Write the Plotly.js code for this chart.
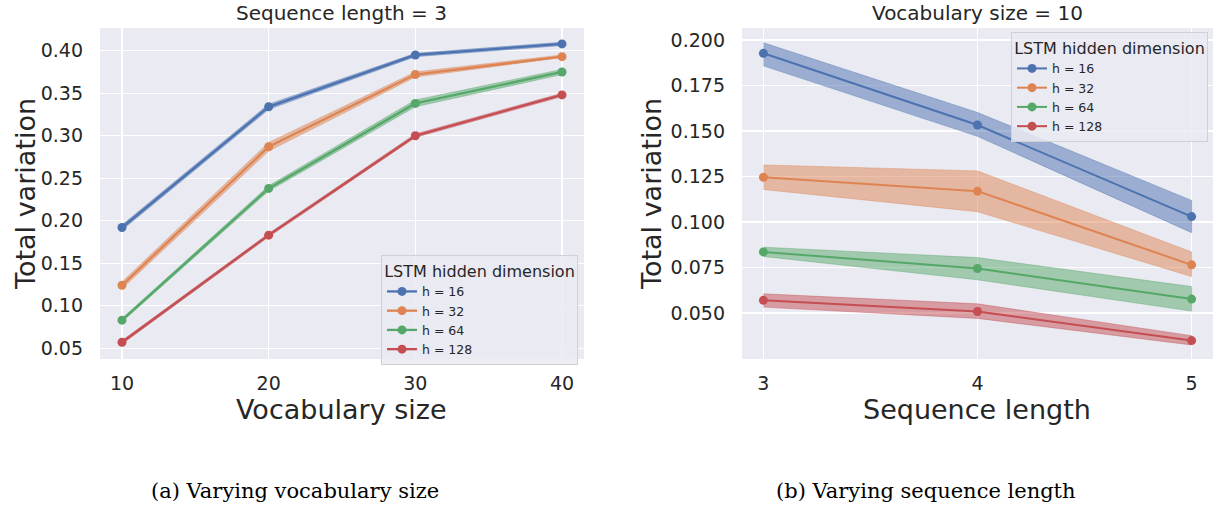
<!DOCTYPE html>
<html>
<head>
<meta charset="utf-8">
<script src="https://cdn.plot.ly/plotly-3.0.1.min.js"></script>
<style>
  html, body { margin: 0; padding: 0; background: #ffffff; }
  #chart { width: 1217px; height: 510px; }
</style>
</head>
<body>
<div id="chart"></div>
<script>
// ---------------- data ----------------
const seriesNames = ["h = 16", "h = 32", "h = 64", "h = 128"];
const seriesColors = ["#4c72b0", "#dd8452", "#55a868", "#c44e52"];
const bandColors = ["rgba(76,114,176,0.5)", "rgba(221,132,82,0.5)", "rgba(85,168,104,0.5)", "rgba(196,78,82,0.5)"];

// (a) Varying vocabulary size, sequence length = 3
const vocabSizes = [10, 20, 30, 40];
const vocabMean16  = [0.192, 0.334, 0.395, 0.408];
const vocabLow16   = [0.189, 0.331, 0.393, 0.406];
const vocabHigh16  = [0.195, 0.337, 0.397, 0.410];
const vocabMean32  = [0.124, 0.287, 0.372, 0.393];
const vocabLow32   = [0.120, 0.282, 0.369, 0.392];
const vocabHigh32  = [0.128, 0.292, 0.375, 0.395];
const vocabMean64  = [0.083, 0.238, 0.338, 0.375];
const vocabLow64   = [0.081, 0.235, 0.334, 0.372];
const vocabHigh64  = [0.085, 0.241, 0.342, 0.378];
const vocabMean128 = [0.057, 0.183, 0.300, 0.348];
const vocabLow128  = [0.055, 0.181, 0.298, 0.346];
const vocabHigh128 = [0.059, 0.185, 0.302, 0.350];

// (b) Varying sequence length, vocabulary size = 10
const seqLengths = [3, 4, 5];
const seqMean16  = [0.1927, 0.1533, 0.1030];
const seqLow16   = [0.1858, 0.1471, 0.0942];
const seqHigh16  = [0.1985, 0.1602, 0.1119];
const seqMean32  = [0.1246, 0.1170, 0.0765];
const seqLow32   = [0.1179, 0.1057, 0.0701];
const seqHigh32  = [0.1314, 0.1281, 0.0836];
const seqMean64  = [0.0836, 0.0745, 0.0577];
const seqLow64   = [0.0811, 0.0683, 0.0511];
const seqHigh64  = [0.0862, 0.0805, 0.0646];
const seqMean128 = [0.0570, 0.0509, 0.0349];
const seqLow128  = [0.0533, 0.0471, 0.0325];
const seqHigh128 = [0.0606, 0.0551, 0.0376];

const vocabTicks = [10, 20, 30, 40];
const vocabYTicks = [0.05, 0.10, 0.15, 0.20, 0.25, 0.30, 0.35, 0.40];
const seqTicks = [3, 4, 5];
const seqYTicks = [0.050, 0.075, 0.100, 0.125, 0.150, 0.175, 0.200];

const leftTitle = "Sequence length = 3";
const rightTitle = "Vocabulary size = 10";
const leftXTitle = "Vocabulary size";
const rightXTitle = "Sequence length";
const yTitle = "Total variation";
const legendTitle = "LSTM hidden dimension";
const captionA = "(a) Varying vocabulary size";
const captionB = "(b) Varying sequence length";

// ---------------- traces ----------------
const vocabMeans = [vocabMean16, vocabMean32, vocabMean64, vocabMean128];
const vocabLows = [vocabLow16, vocabLow32, vocabLow64, vocabLow128];
const vocabHighs = [vocabHigh16, vocabHigh32, vocabHigh64, vocabHigh128];
const seqMeans = [seqMean16, seqMean32, seqMean64, seqMean128];
const seqLows = [seqLow16, seqLow32, seqLow64, seqLow128];
const seqHighs = [seqHigh16, seqHigh32, seqHigh64, seqHigh128];

const traces = [];
function addPanel(xs, means, lows, highs, xa, ya, legendId, lw) {
  for (let i = 0; i < means.length; i++) {
    traces.push({
      x: xs.concat(xs.slice().reverse()),
      y: highs[i].concat(lows[i].slice().reverse()),
      xaxis: xa, yaxis: ya,
      type: "scatter", mode: "lines",
      fill: "toself", fillcolor: bandColors[i],
      line: { width: 0.8, color: bandColors[i] },
      hoverinfo: "skip", showlegend: false
    });
    traces.push({
      x: xs, y: means[i],
      xaxis: xa, yaxis: ya,
      type: "scatter", mode: "lines+markers",
      name: seriesNames[i],
      line: { color: seriesColors[i], width: lw },
      marker: { color: seriesColors[i], size: 9 },
      legend: legendId
    });
  }
}
addPanel(vocabSizes, vocabMeans, vocabLows, vocabHighs, "x", "y", "legend", 2.3);
addPanel(seqLengths, seqMeans, seqLows, seqHighs, "x2", "y2", "legend2", 2);

const W = 1217, H = 510;
const px = v => v / W;
const py = v => 1 - v / H;

const tickFont = { family: "DejaVu Sans", size: 19, color: "#262626" };
const axisCommon = {
  showline: false, zeroline: false, ticks: "", ticklen: 0,
  gridcolor: "#ffffff", gridwidth: 1.4,
  tickfont: tickFont, fixedrange: true
};

const legendCommon = {
  bgcolor: "rgba(234,234,242,0.85)",
  bordercolor: "#d0d0d8", borderwidth: 1,
  font: { family: "DejaVu Sans", size: 12.5, color: "#262626" },
  title: { text: legendTitle, side: "top center", font: { family: "DejaVu Sans", size: 16, color: "#262626" } },
  xanchor: "right", yanchor: "top",
  itemwidth: 30, tracegroupgap: 0
};

const layout = {
  width: W, height: H,
  margin: { l: 0, r: 0, t: 0, b: 0 },
  paper_bgcolor: "#ffffff",
  plot_bgcolor: "#eaeaf2",
  font: { family: "DejaVu Sans", color: "#262626" },
  xaxis: Object.assign({}, axisCommon, {
    domain: [px(100), px(584)], anchor: "y",
    range: [8.5, 41.5], tickvals: vocabTicks, ticklabelstandoff: 11
  }),
  yaxis: Object.assign({}, axisCommon, {
    domain: [py(359), py(28)], anchor: "x",
    range: [0.0373, 0.4267], tickvals: vocabYTicks, tickformat: ".2f", ticklabelstandoff: 16
  }),
  xaxis2: Object.assign({}, axisCommon, {
    domain: [px(742), px(1213)], anchor: "y2",
    range: [2.9, 5.1], tickvals: seqTicks, ticklabelstandoff: 11
  }),
  yaxis2: Object.assign({}, axisCommon, {
    domain: [py(359), py(28)], anchor: "x2",
    range: [0.0248, 0.2066], tickvals: seqYTicks, tickformat: ".3f", ticklabelstandoff: 16
  }),
  legend: Object.assign({}, legendCommon, { x: px(578), y: py(255) }),
  legend2: Object.assign({}, legendCommon, { x: px(1208), y: py(32) }),
  showlegend: true,
  annotations: [
    { text: leftTitle, x: px(341), y: py(13), xref: "paper", yref: "paper", showarrow: false,
      xanchor: "center", yanchor: "middle", font: { family: "DejaVu Sans", size: 20, color: "#262626" } },
    { text: rightTitle, x: px(977), y: py(13), xref: "paper", yref: "paper", showarrow: false,
      xanchor: "center", yanchor: "middle", font: { family: "DejaVu Sans", size: 20, color: "#262626" } },
    { text: leftXTitle, x: px(341), y: py(409), xref: "paper", yref: "paper", showarrow: false,
      xanchor: "center", yanchor: "middle", font: { family: "DejaVu Sans", size: 27, color: "#262626" } },
    { text: rightXTitle, x: px(977), y: py(409), xref: "paper", yref: "paper", showarrow: false,
      xanchor: "center", yanchor: "middle", font: { family: "DejaVu Sans", size: 27, color: "#262626" } },
    { text: yTitle, x: px(25), y: py(194), xref: "paper", yref: "paper", showarrow: false, textangle: -90,
      xanchor: "center", yanchor: "middle", font: { family: "DejaVu Sans", size: 27, color: "#262626" } },
    { text: yTitle, x: px(651), y: py(194), xref: "paper", yref: "paper", showarrow: false, textangle: -90,
      xanchor: "center", yanchor: "middle", font: { family: "DejaVu Sans", size: 27, color: "#262626" } },
    { text: captionA, x: px(295), y: py(491), xref: "paper", yref: "paper", showarrow: false,
      xanchor: "center", yanchor: "middle", font: { family: "DejaVu Serif", size: 21, color: "#000000" } },
    { text: captionB, x: px(926), y: py(491), xref: "paper", yref: "paper", showarrow: false,
      xanchor: "center", yanchor: "middle", font: { family: "DejaVu Serif", size: 21, color: "#000000" } }
  ]
};

Plotly.newPlot("chart", traces, layout, { displayModeBar: false, staticPlot: true });
</script>
</body>
</html>
